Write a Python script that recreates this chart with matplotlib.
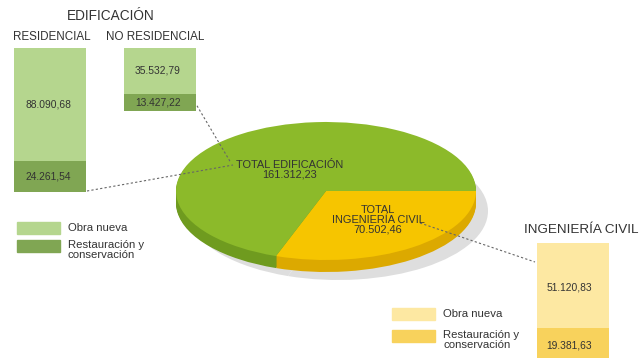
import matplotlib.pyplot as plt

plt.rcParams['font.family'] = ['Liberation Sans', 'DejaVu Sans']

# --- data ---
edif_labels = ['RESIDENCIAL', 'NO RESIDENCIAL']
edif_nueva = [88090.68, 35532.79]
edif_restaur = [24261.54, 13427.22]
civil_nueva = [51120.83]
civil_restaur = [19381.63]
pie_labels = ['TOTAL\nINGENIERÍA CIVIL', 'TOTAL EDIFICACIÓN']
pie_values = [70502.46, 161312.23]
legend_labels = ['Obra nueva', 'Restauración y\nconservación']


def fmt(v):
    s = f'{v:,.2f}'
    return s.replace(',', 'X').replace('.', ',').replace('X', '.')


# --- styles ---
TXT = '#333333'
G_LIGHT, G_DARK = '#b5d68e', '#80a653'
Y_LIGHT, Y_DARK = '#fde8a2', '#f8d25c'
PIE_TOP = ['#f6c500', '#8cba2a']
PIE_SIDE = ['#dca900', '#6f9b1f']
SHADOW = '#dedede'
VAL_FS = 7.4

fig = plt.figure(figsize=(6.4, 3.58), dpi=100)
ax = fig.add_axes([0, 0, 1, 1])
ax.set_xlim(0, 640)
ax.set_ylim(358, 0)
ax.axis('off')

# --- edificación bars (pixel coordinates, y down) ---
edif_x = [50, 160]
bar_w = 72
edif_top = 48
edif_scale = 144 / (edif_nueva[0] + edif_restaur[0])
for x, n, r in zip(edif_x, edif_nueva, edif_restaur):
    h_n = n * edif_scale
    h_r = r * edif_scale
    ax.bar(x, h_n, bottom=edif_top, width=bar_w, color=G_LIGHT)
    ax.bar(x, h_r, bottom=edif_top + h_n, width=bar_w, color=G_DARK)
    ax.text(x - 2, edif_top + h_n / 2, fmt(n), ha='center', va='center',
            fontsize=VAL_FS, color=TXT)
    ax.text(x - 2, edif_top + h_n + h_r / 2, fmt(r), ha='center',
            va='center', fontsize=VAL_FS, color=TXT)

for x, lab in zip([51.5, 155.5], edif_labels):
    ax.text(x, 37, lab, ha='center', va='center', fontsize=8.4, color=TXT)
ax.text(110.5, 16, 'EDIFICACIÓN', ha='center', va='center', fontsize=9.8,
        color=TXT)

# --- ingeniería civil bar ---
civ_x = 573
civ_top = 243
civ_scale = 85 / civil_nueva[0]
h_n = civil_nueva[0] * civ_scale
h_r = civil_restaur[0] * civ_scale
ax.bar(civ_x, h_n, bottom=civ_top, width=bar_w, color=Y_LIGHT)
ax.bar(civ_x, h_r, bottom=civ_top + h_n, width=bar_w, color=Y_DARK)
ax.text(civ_x - 4, civ_top + h_n / 2 + 2, fmt(civil_nueva[0]), ha='center',
        va='center', fontsize=VAL_FS, color=TXT)
ax.text(civ_x - 4, civ_top + h_n + 17, fmt(civil_restaur[0]), ha='center',
        va='center', fontsize=VAL_FS, color=TXT)
ax.text(581, 230, 'INGENIERÍA CIVIL', ha='center', va='center',
        fontsize=9.7, color=TXT)

# --- legends ---
for (lx, ly, dy) in [(17, 222, 18), (392, 308, 22)]:
    cols = (G_LIGHT, G_DARK) if lx < 100 else (Y_LIGHT, Y_DARK)
    for i, (c, lab) in enumerate(zip(cols, legend_labels)):
        ax.add_patch(plt.Rectangle((lx, ly + i * dy), 43, 12, color=c))
        ax.text(lx + 51, ly + 6 + i * dy + (4 if i else 0), lab, ha='left',
                va='center', fontsize=8.2, color=TXT, linespacing=0.9)

# --- 3D-looking pie in its own axes ---
cx, cy, a, b = 326, 191, 150, 69
depth = 12
px0, px1, py0, py1 = 160, 500, 110, 290
pax = fig.add_axes([px0 / 640, (358 - py1) / 358, (px1 - px0) / 640,
                    (py1 - py0) / 358])
pax.set_zorder(0)
ax.set_zorder(1)
ax.patch.set_alpha(0)

pax.pie(pie_values, radius=1, center=(12 / a, -(depth + 8) / b),
        colors=[SHADOW, SHADOW], startangle=0, counterclock=False,
        wedgeprops={'linewidth': 0})
for d in range(depth, 0, -1):
    pax.pie(pie_values, radius=1, center=(0, -d / b), colors=PIE_SIDE,
            startangle=0, counterclock=False, wedgeprops={'linewidth': 0})
pax.pie(pie_values, radius=1, center=(0, 0), colors=PIE_TOP, startangle=0,
        counterclock=False, wedgeprops={'linewidth': 0})
pax.set_aspect('auto')
pax.set_xlim((px0 - cx) / a, (px1 - cx) / a)
pax.set_ylim((cy - py1) / b, (cy - py0) / b)
pax.axis('off')

# pie labels (main axes, pixel coords)
ax.text(290, 170, pie_labels[1] + '\n' + fmt(pie_values[1]), ha='center',
        va='center', fontsize=7.9, color=TXT, linespacing=0.95)
ax.text(378, 220, pie_labels[0] + '\n' + fmt(pie_values[0]), ha='center',
        va='center', fontsize=7.9, color=TXT, linespacing=0.95)

# --- dashed connector lines ---
dash = dict(color='#666666', lw=0.8, linestyle=(0, (2, 2)))
res_bottom = edif_top + (edif_nueva[0] + edif_restaur[0]) * edif_scale
nores_bottom = edif_top + (edif_nueva[1] + edif_restaur[1]) * edif_scale
ax.plot([edif_x[0] + bar_w / 2 + 1, 233], [res_bottom - 1, 165], **dash)
ax.plot([edif_x[1] + bar_w / 2 + 1, 231], [nores_bottom - 5, 163], **dash)
ax.plot([420, civ_x - bar_w / 2 - 2], [223, 262], **dash)

fig.savefig('out.png', dpi=100)
